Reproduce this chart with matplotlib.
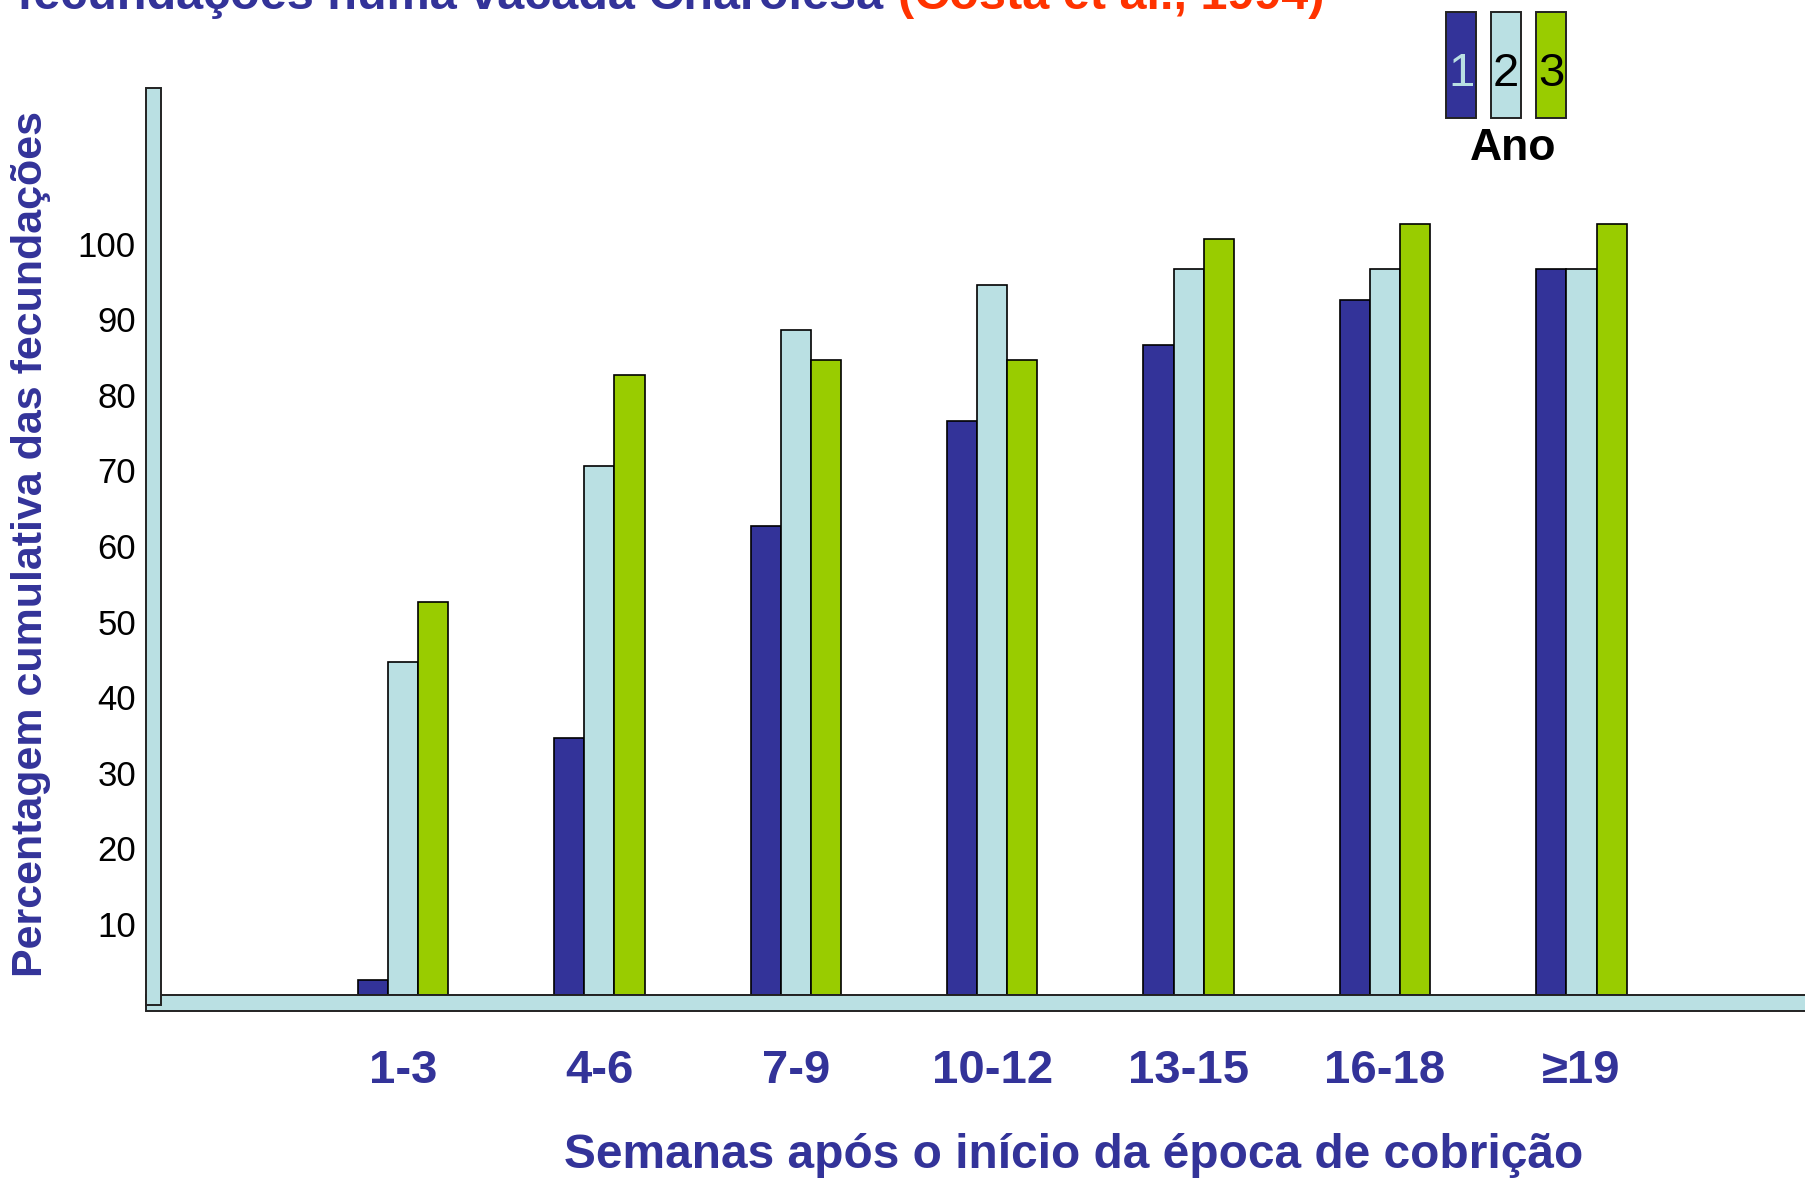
import matplotlib
matplotlib.use("Agg")
import matplotlib.pyplot as plt
from matplotlib import font_manager
from matplotlib.patches import Rectangle
from matplotlib.transforms import ScaledTranslation
import numpy as np

# cumulative fecundation percentage per period, one list per year
periods = ["1-3", "4-6", "7-9", "10-12", "13-15", "16-18", "≥19"]
ano_1 = [2, 34, 62, 76, 86, 92, 96]
ano_2 = [44, 70, 88, 94, 96, 96, 96]
ano_3 = [52, 82, 84, 84, 100, 102, 102]
anos = ["1", "2", "3"]
y_ticks = [10, 20, 30, 40, 50, 60, 70, 80, 90, 100]

BLUE = "#333399"
CYAN = "#BAE0E3"
GREEN = "#99CC00"
RED = "#FF3300"
colors = [BLUE, CYAN, GREEN]

installed = {f.name for f in font_manager.fontManager.ttflist}
NARROW = "Liberation Sans Narrow" if "Liberation Sans Narrow" in installed else "Liberation Sans"
plt.rcParams["font.family"] = ["Liberation Sans", "DejaVu Sans"]

W, H = 1805, 1179
fig = plt.figure(figsize=(W / 100, H / 100), dpi=100)


def fx(px):
    return px / W


def fy(py):
    return 1 - py / H


# floor and back wall of the chart
fig.patches.append(Rectangle((fx(146), fy(1011)), fx(1700), 16 / H,
                             transform=fig.transFigure, facecolor=CYAN,
                             edgecolor="#222222", lw=1.4, zorder=1))
fig.patches.append(Rectangle((fx(146), fy(1005)), fx(15), 917 / H,
                             transform=fig.transFigure, facecolor=CYAN,
                             edgecolor="#222222", lw=1.4, zorder=2))

ax = fig.add_axes([fx(161), fy(995), 1 - fx(161), (995 - 88) / H])
ax.set_facecolor("none")
for s in ax.spines.values():
    s.set_visible(False)

x = np.arange(len(periods))
width = 0.1533
for i, (vals, c) in enumerate(zip([ano_1, ano_2, ano_3], colors)):
    ax.bar(x + (i - 1) * width, vals, width, color=c, edgecolor="black",
           lw=1.2, zorder=3)

ax.set_xlim(-1.232, 7.138)
ax.set_ylim(0, 120)
ax.set_yticks(y_ticks)
ax.set_yticklabels([str(v) for v in y_ticks], fontsize=25)
ax.tick_params(axis="y", length=0, pad=18)
# value labels sit a little low on the wall
shift = ScaledTranslation(0, -0.045, fig.dpi_scale_trans)
for lab in ax.get_yticklabels():
    lab.set_transform(lab.get_transform() + shift)
ax.set_xticks(x)
ax.set_xticklabels(periods, fontsize=34, fontweight="bold", color=BLUE,
                   family=[NARROW, "DejaVu Sans"])
ax.tick_params(axis="x", length=0, pad=39)

fig.text(fx(1074), fy(1155), "Semanas após o início da época de cobrição",
         ha="center", va="center", fontsize=34.5, fontweight="bold",
         color=BLUE, family=NARROW)
fig.text(fx(31), fy(544), "Percentagem cumulativa das fecundações",
         ha="center", va="center", rotation=90, fontsize=31,
         fontweight="bold", color=BLUE, family=NARROW)

# title, only its lower line shows at the top edge
fig.text(fx(17), fy(9), "fecundações numa vacada Charolesa", ha="left",
         va="baseline", fontsize=35, fontweight="bold", color=BLUE,
         family=NARROW)
fig.text(fx(898), fy(9), "(Costa et al., 1994)", ha="left", va="baseline",
         fontsize=35, fontweight="bold", color=RED, family=NARROW)

# year key
key_x = [1446, 1491, 1536]
digit_colors = [CYAN, "black", "black"]
for kx, c, lab, dc in zip(key_x, colors, anos, digit_colors):
    fig.patches.append(Rectangle((fx(kx), fy(118)), fx(30), 106 / H,
                                 transform=fig.transFigure, facecolor=c,
                                 edgecolor="#222222", lw=1.4))
    fig.text(fx(kx + 15), fy(74), lab, ha="center", va="center",
             fontsize=34, color=dc)
fig.text(fx(1513), fy(148), "Ano", ha="center", va="center", fontsize=32,
         fontweight="bold", color="black")

fig.savefig("out.png", dpi=100)
